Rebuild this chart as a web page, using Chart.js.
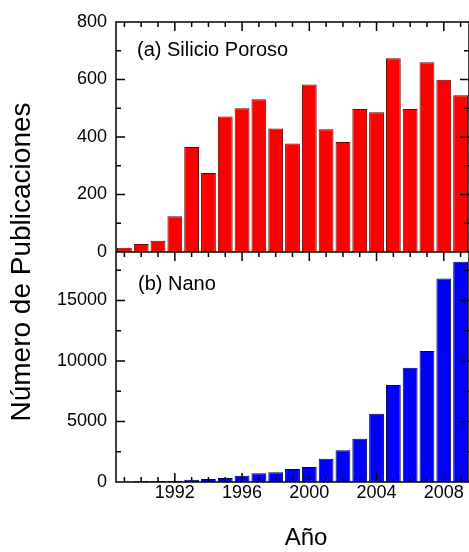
<!DOCTYPE html>
<html>
<head>
<meta charset="utf-8">
<script src="https://cdn.jsdelivr.net/npm/chart.js@4.4.1/dist/chart.umd.min.js"></script>
<style>
html, body { margin: 0; padding: 0; background: #fff; overflow: hidden; }
#caja { width: 471px; height: 552px; }
</style>
</head>
<body>
<div id="caja"><canvas id="grafica"></canvas></div>
<script>
// datos
const anios = ['1989','1990','1991','1992','1993','1994','1995','1996','1997','1998','1999',
               '2000','2001','2002','2003','2004','2005','2006','2007','2008','2009'];
const silicioPoroso = [15, 28, 39, 124, 365, 275, 471, 500, 531, 430, 377,
                       583, 427, 383, 497, 486, 674, 497, 660, 599, 545];
const nano = [30, 80, 90, 100, 190, 250, 330, 520, 715, 800, 1075,
              1240, 1925, 2615, 3580, 5640, 8010, 9440, 10820, 16820, 18195];
const etiquetasAnio = ['1992', '1996', '2000', '2004', '2008'];
const ticksSilicio = [0, 200, 400, 600, 800];
const ticksNano = [0, 5000, 10000, 15000];

const fuente = 'Liberation Sans, Arial, sans-serif';

// marco, marcas hacia dentro y textos
const marco = {
    id: 'marco',
    afterDatasetsDraw(chart) {
        const ctx = chart.ctx;
        const area = chart.chartArea;
        const x = chart.scales.x;
        const ySi = chart.scales.ySi;
        const yNano = chart.scales.yNano;
        const medio = ySi.bottom;
        ctx.save();
        ctx.strokeStyle = '#000';
        ctx.lineWidth = 1.5;
        ctx.beginPath();
        ctx.rect(area.left, area.top, area.right - area.left, area.bottom - area.top);
        ctx.moveTo(area.left, medio);
        ctx.lineTo(area.right, medio);

        for (let i = 0; i < anios.length; i++) {
            const px = x.getPixelForValue(i);
            const largo = etiquetasAnio.includes(anios[i]) ? 9 : 5;
            ctx.moveTo(px, area.top); ctx.lineTo(px, area.top + largo);
            ctx.moveTo(px, medio); ctx.lineTo(px, medio + largo);
            ctx.moveTo(px, area.bottom); ctx.lineTo(px, area.bottom - largo);
        }
        [[ySi, ticksSilicio], [yNano, ticksNano]].forEach(([esc, mayores]) => {
            esc.ticks.forEach(t => {
                const py = esc.getPixelForValue(t.value);
                const largo = mayores.includes(t.value) ? 9 : 5;
                ctx.moveTo(area.left, py); ctx.lineTo(area.left + largo, py);
                ctx.moveTo(area.right, py); ctx.lineTo(area.right - largo, py);
            });
        });
        ctx.stroke();

        ctx.fillStyle = '#000';
        ctx.textBaseline = 'middle';
        ctx.textAlign = 'left';
        ctx.font = '20px ' + fuente;
        ctx.fillText('(a) Silicio Poroso', area.left + 21, area.top + 28);
        ctx.fillText('(b) Nano', area.left + 22, medio + 32);

        ctx.textAlign = 'center';
        ctx.font = '24px ' + fuente;
        ctx.fillText('Año', 306, 538);
        ctx.font = '28px ' + fuente;
        ctx.translate(22, 262);
        ctx.rotate(-Math.PI / 2);
        ctx.fillText('Número de Publicaciones', 0, 0);
        ctx.restore();
    }
};

const ejeY = (maximo, paso, mayores) => ({
    type: 'linear',
    position: 'left',
    stack: 'paneles',
    stackWeight: 1,
    min: 0,
    max: maximo,
    grid: { display: false, drawTicks: false },
    border: { display: false },
    ticks: {
        autoSkip: false,
        padding: 9,
        color: '#000',
        font: { family: fuente, size: 18 },
        callback: v => mayores.includes(v) ? v : ''
    },
    // marcas mayores y menores a mano, chart.js reparte mal el paso con max 19000
    afterBuildTicks: s => {
        const lista = [];
        for (let v = 0; v <= maximo; v += paso) lista.push({ value: v });
        s.ticks = lista;
    },
    afterFit: s => { s.width = 116; }
});

new Chart(document.getElementById('grafica'), {
    type: 'bar',
    data: {
        labels: anios,
        datasets: [
            {
                label: 'Nano',
                data: nano,
                yAxisID: 'yNano',
                backgroundColor: '#0000ff',
                borderColor: '#00005a',
                borderWidth: 1,
                grouped: false,
                barPercentage: 0.88,
                categoryPercentage: 1
            },
            {
                label: 'Silicio Poroso',
                data: silicioPoroso,
                yAxisID: 'ySi',
                backgroundColor: '#ff0000',
                borderColor: '#6e0000',
                borderWidth: 1,
                grouped: false,
                barPercentage: 0.88,
                categoryPercentage: 1
            }
        ]
    },
    options: {
        responsive: true,
        maintainAspectRatio: false,
        animation: false,
        devicePixelRatio: 1,
        layout: { padding: { top: 22, right: 2, left: 0, bottom: 0 } },
        plugins: { legend: { display: false }, tooltip: { enabled: false } },
        scales: {
            x: {
                type: 'category',
                offset: true,
                grid: { display: false, drawTicks: false },
                border: { display: false },
                ticks: {
                    autoSkip: false,
                    maxRotation: 0,
                    padding: 0,
                    color: '#000',
                    font: { family: fuente, size: 18 },
                    callback: (v, i) => etiquetasAnio.includes(anios[i]) ? anios[i] : ''
                },
                afterFit: s => { s.height = 70; }
            },
            yNano: ejeY(19000, 2500, ticksNano),
            ySi: ejeY(800, 100, ticksSilicio)
        }
    },
    plugins: [marco]
});
</script>
</body>
</html>
